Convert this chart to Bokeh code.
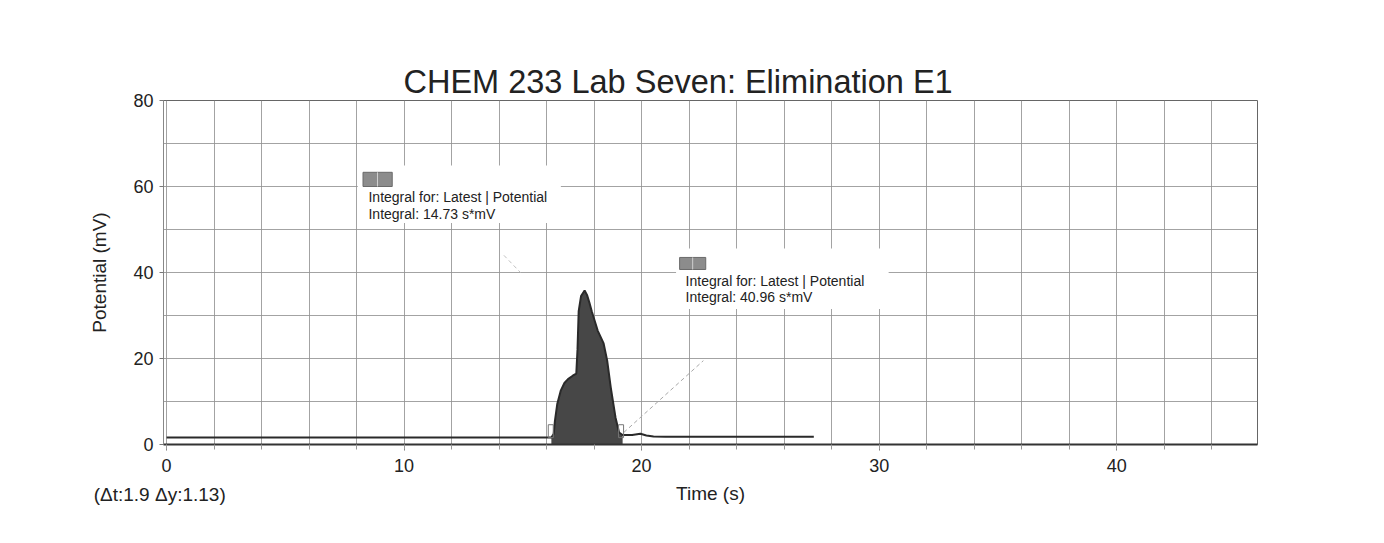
from bokeh.plotting import figure
from bokeh.models import Range1d, Label, FixedTicker, SingleIntervalTicker
from bokeh.embed import file_html
from bokeh.resources import INLINE

# ---- data ----
time_s = [0.0, 4.0, 8.0, 12.0, 16.0, 16.2, 16.3, 16.35, 16.45, 16.6, 16.75, 16.9, 17.1, 17.25,
          17.3, 17.35, 17.45, 17.6, 17.7, 17.8, 17.9, 18.15, 18.4, 18.55, 18.7, 18.9, 19.05,
          19.2, 19.6, 19.95, 20.2, 20.5, 21.0, 24.0, 27.25]
potential_mv = [1.6, 1.6, 1.6, 1.6, 1.6, 1.6, 2.5, 5.5, 9.5, 12.6, 14.3, 15.2, 16.0, 16.5,
                22.0, 31.0, 34.5, 35.8, 34.8, 33.0, 31.0, 26.5, 23.5, 19.5, 13.3, 6.3, 2.8,
                2.2, 2.2, 2.5, 2.1, 1.85, 1.8, 1.8, 1.8]
integral_window = [16.2, 19.2]

x_ticks = [0, 10, 20, 30, 40]
y_ticks = [0, 20, 40, 60, 80]

title_text = "CHEM 233 Lab Seven: Elimination E1"
x_label = "Time (s)"
y_label = "Potential (mV)"
delta_text = "(\u0394t:1.9 \u0394y:1.13)"
ann1 = ["Integral for: Latest | Potential", "Integral: 14.73 s*mV"]
ann2 = ["Integral for: Latest | Potential", "Integral: 40.96 s*mV"]

FONT = "Liberation Sans"
TXT = "#222222"

p = figure(width=1376, height=535, output_backend="svg", toolbar_location=None,
           x_range=Range1d(-0.13, 45.93), y_range=Range1d(0, 80),
           min_border_left=163, min_border_right=119, min_border_top=100, min_border_bottom=91)
p.background_fill_color = "white"
p.border_fill_color = "white"
p.outline_line_color = "#666666"

# title
p.title.text = title_text
p.title.text_font = FONT
p.title.text_font_size = "32.5px"
p.title.text_font_style = "normal"
p.title.text_color = TXT
p.title.align = "left"
p.title.offset = 240
p.title.standoff = 2

# grids
p.xgrid.ticker = FixedTicker(ticks=list(range(0, 47, 2)))
p.ygrid.ticker = FixedTicker(ticks=list(range(0, 81, 10)))
for g in (p.xgrid, p.ygrid):
    g.grid_line_color = "#939393"
    g.grid_line_width = 1
    g.grid_line_alpha = 0.85

# axes
p.xaxis.ticker = SingleIntervalTicker(interval=10, num_minor_ticks=5)
p.yaxis.ticker = FixedTicker(ticks=y_ticks)
for ax in (p.xaxis, p.yaxis):
    ax.major_label_text_font = FONT
    ax.major_label_text_font_size = "18px"
    ax.major_label_text_color = TXT
    ax.axis_label_text_font = FONT
    ax.axis_label_text_font_size = "19px"
    ax.axis_label_text_font_style = "normal"
    ax.axis_label_text_color = TXT
    ax.major_tick_in = 0
    ax.minor_tick_in = 0
    ax.major_tick_line_color = "#777777"
    ax.minor_tick_line_color = "#999999"
p.xaxis.axis_label = x_label
p.yaxis.axis_label = y_label
p.xaxis.axis_line_color = "#333333"
p.xaxis.axis_line_width = 2
p.yaxis.axis_line_color = "#888888"
p.xaxis.major_tick_out = 6
p.xaxis.minor_tick_out = 5
p.xaxis.major_label_standoff = 8
p.xaxis.axis_label_standoff = 8
p.yaxis.major_tick_out = 4
p.yaxis.minor_tick_out = 0
p.yaxis.major_label_standoff = 6
p.yaxis.axis_label_standoff = 20

# integral fill
win_t = [t for t in time_s if integral_window[0] <= t <= integral_window[1]]
win_v = [v for t, v in zip(time_s, potential_mv) if integral_window[0] <= t <= integral_window[1]]
p.varea(x=win_t, y1=[0] * len(win_t), y2=win_v, fill_color="#474747")

# trace
p.line(time_s, potential_mv, line_color="#2a2a2a", line_width=2)

# integral bracket markers
p.quad(left=[integral_window[0] - 0.13, integral_window[1] - 0.17],
       right=[integral_window[0] + 0.08, integral_window[1] + 0.04],
       bottom=[1.6, 1.6], top=[4.6, 4.6], fill_color=None, line_color="#777777", line_width=1)

# leader lines
p.line([integral_window[1] + 0.05, 22.6], [2.8, 19.5], line_color="#a8a8a8", line_dash="4 3", line_width=1)
p.line([14.2, 14.9], [44.0, 40.0], line_color="#c0c0c0", line_dash="4 3", line_width=1)

# annotation boxes (white backgrounds covering the grid)
p.quad(left=[8.05, 21.45], right=[16.6, 30.4], top=[64.9, 45.6], bottom=[51.5, 31.5],
       fill_color="white", line_color=None)
# icons
p.quad(left=[8.27, 21.6], right=[9.5, 22.7], top=[63.3, 43.5], bottom=[60.0, 40.7],
       fill_color="#8c8c8c", line_color="#6a6a6a", line_width=1)
p.segment(x0=[8.88, 22.15], x1=[8.88, 22.15], y0=[63.3, 43.5], y1=[60.0, 40.7],
          line_color="#d0d0d0", line_width=1)

for (tx, ty), lines in (((8.5, 57.5), ann1), ((21.85, 38.0), ann2)):
    for i, s in enumerate(lines):
        p.add_layout(Label(x=tx, y=ty - i * 3.8, text=s, text_font=FONT,
                           text_font_size="14px", text_color=TXT, text_baseline="middle"))

# caption outside the frame: placed in a side panel so it is not clipped to the frame
p.add_layout(Label(x=-3.07, y=-11.6, text=delta_text, text_font=FONT,
                   text_font_size="19px", text_color=TXT, text_baseline="middle"), "below")

open("out.html", "w").write(file_html(p, INLINE))
